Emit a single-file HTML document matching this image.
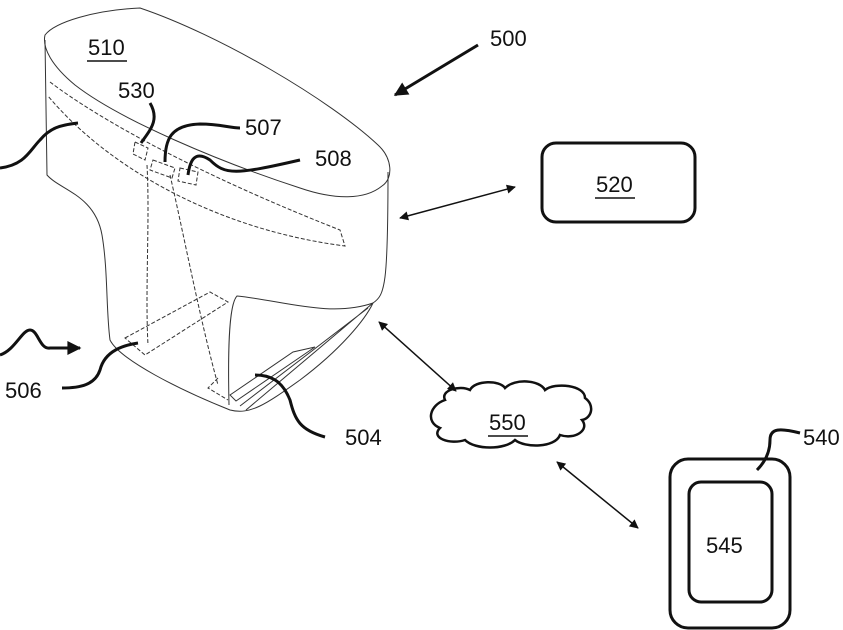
<!DOCTYPE html>
<html><head><style>
body{margin:0;background:#fff}
svg{display:block}
text{font-family:"Liberation Sans",sans-serif;font-size:22px;fill:#111}
</style></head><body>
<svg width="843" height="630" viewBox="0 0 843 630" xmlns="http://www.w3.org/2000/svg">
<defs>
<marker id="a" viewBox="0 0 10 10" refX="9" refY="5" markerWidth="10" markerHeight="9" markerUnits="userSpaceOnUse" orient="auto-start-reverse"><path d="M0,0L10,5L0,10z" fill="#111"/></marker>
<marker id="b" viewBox="0 0 10 10" refX="9" refY="5" markerWidth="16" markerHeight="14" markerUnits="userSpaceOnUse" orient="auto"><path d="M0,0L10,5L0,10z" fill="#111"/></marker>
</defs>
<g fill="none" stroke="#333" stroke-width="1">
<!-- lid -->
<path d="M45,35 C55,22 95,10 140,8 C220,35 330,100 378,145 C392,158 394,178 382,186 C365,200 335,200 300,188 C220,162 120,120 75,85 C52,66 42,48 45,35Z"/>
<!-- body -->
<path d="M45,40 L47,175 C60,190 95,195 102,235 C108,270 106,310 110,340 C120,360 180,390 230,410 C250,415 265,405 300,380 C340,350 365,320 373,303 C385,295 388,285 388,172"/>
<path d="M373,303 C330,318 280,300 237,296 C228,305 228,360 229,405"/>
<path d="M368,308 L240,406 M373,303 L246,410"/>
</g>
<g fill="none" stroke="#333" stroke-width="1" stroke-dasharray="4,2">
<path d="M50,82 C100,120 200,175 340,230 L345,246 C220,230 110,170 48,96"/>
<path d="M135,142 L148,148 L145,160 L133,154Z"/>
<path d="M153,160 L175,168 L172,178 L150,170Z"/>
<path d="M180,168 L198,172 L196,185 L178,181Z"/>
<path d="M147,165 C150,220 145,290 148,345"/>
<path d="M170,175 C185,240 200,320 218,385"/>
<path d="M125,338 L210,292 L228,302 L145,355Z"/>
<path d="M218,378 L208,388 L228,400"/>
</g>
<path d="M230,395 L293,352 L315,347 L236,401Z" fill="none" stroke="#333" stroke-width="1"/>
<g fill="none" stroke="#111" stroke-width="3">
<path d="M0,168 C25,165 30,150 40,140 C50,128 60,125 78,123"/>
<path d="M141,143 C150,130 160,120 150,103"/>
<path d="M165,162 C165,140 170,125 200,124 C220,124 230,128 240,128"/>
<path d="M188,175 C190,160 195,150 210,160 C225,175 235,175 300,160"/>
<path d="M0,355 C15,350 22,330 30,330 C38,330 40,350 50,348 L80,348" marker-end="url(#b)"/>
<path d="M62,388 C80,388 95,385 100,370 C105,350 125,345 138,343"/>
<path d="M325,437 C300,430 295,420 290,400 C282,380 270,375 255,375"/>
<path d="M478,45 L395,95" marker-end="url(#b)"/>
<path d="M800,433 C780,428 770,428 770,440 C770,455 762,465 757,470"/>
<rect x="542" y="143" width="153" height="79" rx="14"/>
<rect x="670" y="459" width="120" height="169" rx="18"/>
<rect x="689" y="482" width="83" height="120" rx="12"/>
</g>
<g stroke="#111" stroke-width="1.5" fill="none">
<path d="M400,218 L515,187" marker-start="url(#a)" marker-end="url(#a)"/>
<path d="M379,322 L456,391" marker-start="url(#a)" marker-end="url(#a)"/>
<path d="M557,462 L638,528" marker-start="url(#a)" marker-end="url(#a)"/>
</g>
<path d="M445,400 C440,390 460,385 470,390 C475,380 500,380 505,388 C515,378 540,380 545,390 C555,382 585,385 585,398 C595,405 592,418 582,420 C590,430 575,440 560,435 C555,448 525,448 515,440 C505,450 475,450 465,440 C450,445 430,438 440,428 C425,422 430,405 445,400Z" fill="none" stroke="#111" stroke-width="2.5"/>
<text x="88" y="55">510</text><line x1="87" y1="61" x2="127" y2="61" stroke="#111" stroke-width="1.5"/>
<text x="118" y="98">530</text>
<text x="245" y="135">507</text>
<text x="315" y="166">508</text>
<text x="490" y="46">500</text>
<text x="596" y="192">520</text><line x1="595" y1="198" x2="635" y2="198" stroke="#111" stroke-width="1.5"/>
<text x="5" y="398">506</text>
<text x="345" y="445">504</text>
<text x="489" y="430">550</text><line x1="488" y1="436" x2="528" y2="436" stroke="#111" stroke-width="1.5"/>
<text x="803" y="445">540</text>
<text x="706" y="553">545</text>
</svg>
</body></html>
